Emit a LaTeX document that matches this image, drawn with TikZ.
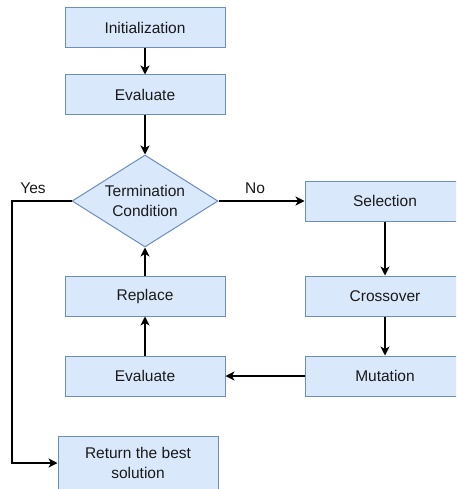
\documentclass[tikz,border=0pt]{standalone}
\usepackage{fontspec}
\setmainfont{Liberation Sans}
\usetikzlibrary{shapes.geometric,arrows.meta}
\definecolor{boxfill}{HTML}{DAE8FC}
\definecolor{boxdraw}{HTML}{6C8EBF}
\definecolor{txt}{HTML}{1A1A1A}
\tikzset{
  procbox/.style={draw=boxdraw, fill=boxfill, line width=1pt, minimum width=160pt, minimum height=40pt, inner sep=0pt, align=center, text=txt, font=\fontsize{15.5}{20}\selectfont},
  decbox/.style={draw=boxdraw, fill=boxfill, line width=1pt, diamond, aspect=1.587, minimum width=146pt, minimum height=92pt, inner sep=0pt, align=center, text=txt, font=\fontsize{15.5}{20.5}\selectfont},
  conn/.style={draw=black, line width=1.3pt, -{Stealth[length=9pt,width=9pt,inset=2.5pt]}},
  lbl/.style={text=txt, font=\fontsize{15.5}{18}\selectfont, inner sep=0pt}
}
\begin{document}
\begin{tikzpicture}[x=1pt,y=-1pt]
\useasboundingbox (0,0) rectangle (456,489);
\clip (0,0) rectangle (456,489);
\fill[white] (0,0) rectangle (456,489);
\node[procbox] (init) at (145,28) {Initialization};
\node[procbox] (eval1) at (145,95) {Evaluate};
\node[decbox] (term) at (145,201) {Termination\\Condition};
\node[procbox] (sel) at (385,201) {Selection};
\node[procbox] (cross) at (385,296) {Crossover};
\node[procbox] (mut) at (385,376) {Mutation};
\node[procbox] (eval2) at (145,376) {Evaluate};
\node[procbox] (repl) at (145,296) {Replace};
\node[procbox, minimum height=54pt] (ret) at (138,463) {Return the best\\solution};
\coordinate (c1) at (12,201);
\coordinate (c2) at (12,463);
\node[lbl] (yes) at (33,188) {Yes};
\node[lbl] (no) at (255,188) {No};
\draw[conn] (init) -- (eval1);
\draw[conn] (eval1) -- (term);
\draw[conn] (term.east) -- (sel.west);
\draw[conn] (sel) -- (cross);
\draw[conn] (cross) -- (mut);
\draw[conn] (mut) -- (eval2);
\draw[conn] (eval2) -- (repl);
\draw[conn] (repl) -- (term.south);
\draw[conn] (term.west) -- (c1) -- (c2) -- (ret.west);
\end{tikzpicture}
\end{document}
